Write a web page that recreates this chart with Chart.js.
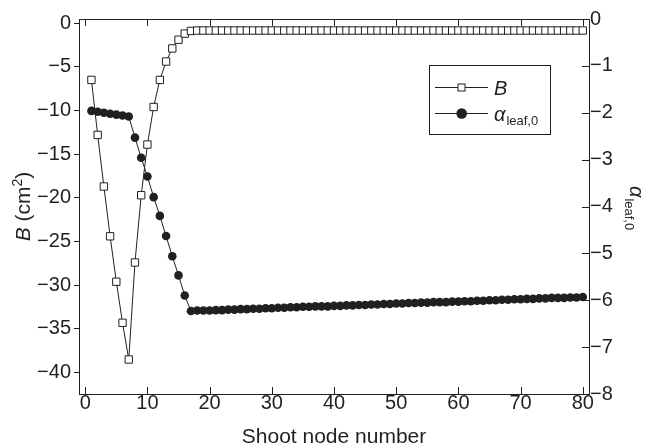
<!DOCTYPE html>
<html>
<head>
<meta charset="utf-8">
<script src="https://cdn.jsdelivr.net/npm/chart.js@4.4.1/dist/chart.umd.min.js"></script>
<style>
  html, body { margin: 0; padding: 0; background: #fff; }
  #wrap { width: 654px; height: 448px; }
</style>
</head>
<body>
<div id="wrap"><canvas id="nodeChart" width="654" height="448"></canvas></div>
<script>
const nodes = [
  1, 2, 3, 4, 5, 6, 7, 8, 9, 10, 11, 12, 13, 14, 15, 16, 17, 18, 19, 20,
  21, 22, 23, 24, 25, 26, 27, 28, 29, 30, 31, 32, 33, 34, 35, 36, 37, 38, 39, 40,
  41, 42, 43, 44, 45, 46, 47, 48, 49, 50, 51, 52, 53, 54, 55, 56, 57, 58, 59, 60,
  61, 62, 63, 64, 65, 66, 67, 68, 69, 70, 71, 72, 73, 74, 75, 76, 77, 78, 79, 80
];

// B (cm2), left axis
const bValues = [
  -6.5, -12.8, -18.7, -24.4, -29.6, -34.3, -38.5, -27.4, -19.7, -13.9,
  -9.6, -6.5, -4.4, -2.9, -1.9, -1.2, -0.9, -0.85, -0.85, -0.85,
  -0.85, -0.85, -0.85, -0.85, -0.85, -0.85, -0.85, -0.85, -0.85, -0.85,
  -0.85, -0.85, -0.85, -0.85, -0.85, -0.85, -0.85, -0.85, -0.85, -0.85,
  -0.85, -0.85, -0.85, -0.85, -0.85, -0.85, -0.85, -0.85, -0.85, -0.85,
  -0.85, -0.85, -0.85, -0.85, -0.85, -0.85, -0.85, -0.85, -0.85, -0.85,
  -0.85, -0.85, -0.85, -0.85, -0.85, -0.85, -0.85, -0.85, -0.85, -0.85,
  -0.85, -0.85, -0.85, -0.85, -0.85, -0.85, -0.85, -0.85, -0.85, -0.85
];

// alpha leaf,0, right axis
const alphaValues = [
  -1.96, -1.98, -2.00, -2.02, -2.04, -2.06, -2.08, -2.53, -2.96, -3.36,
  -3.80, -4.20, -4.63, -5.06, -5.47, -5.90, -6.23, -6.22, -6.22, -6.22,
  -6.21, -6.21, -6.20, -6.20, -6.19, -6.19, -6.18, -6.18, -6.17, -6.17,
  -6.16, -6.16, -6.15, -6.15, -6.14, -6.14, -6.13, -6.13, -6.13, -6.12,
  -6.12, -6.11, -6.11, -6.10, -6.10, -6.09, -6.09, -6.08, -6.08, -6.07,
  -6.07, -6.06, -6.06, -6.05, -6.05, -6.04, -6.04, -6.04, -6.03, -6.03,
  -6.02, -6.02, -6.01, -6.01, -6.00, -6.00, -5.99, -5.99, -5.98, -5.98,
  -5.97, -5.97, -5.96, -5.96, -5.95, -5.95, -5.95, -5.94, -5.94, -5.93
];

const INK = '#231f20';
const FONT = '"Liberation Sans", Arial, Helvetica, sans-serif';

const minus = v => String(v).replace('-', '\u2212');

// inward ticks, top frame line, axis titles and legend
const framePlugin = {
  id: 'frame',
  afterDraw(chart) {
    const ctx = chart.ctx;
    const area = chart.chartArea;
    const xs = chart.scales.x;
    const yr = chart.scales.y1;
    ctx.save();
    ctx.strokeStyle = INK;
    ctx.lineWidth = 1;
    ctx.beginPath();
    ctx.moveTo(area.left, area.top + 0.5);
    ctx.lineTo(area.right, area.top + 0.5);
    xs.ticks.forEach(t => {
      const px = Math.round(xs.getPixelForValue(t.value)) + 0.5;
      ctx.moveTo(px, area.bottom);
      ctx.lineTo(px, area.bottom - 7);
      ctx.moveTo(px, area.top);
      ctx.lineTo(px, area.top + 7);
    });
    yr.ticks.forEach(t => {
      const py = Math.round(yr.getPixelForValue(t.value)) + 0.5;
      ctx.moveTo(area.right, py);
      ctx.lineTo(area.right - 7, py);
    });
    ctx.stroke();

    ctx.fillStyle = INK;
    // x title
    ctx.font = '21px ' + FONT;
    ctx.textAlign = 'center';
    ctx.textBaseline = 'middle';
    ctx.fillText('Shoot node number', (area.left + area.right) / 2, 437);

    // left title: B (cm2)
    ctx.save();
    ctx.translate(30, (area.top + area.bottom) / 2);
    ctx.rotate(-Math.PI / 2);
    ctx.textBaseline = 'alphabetic';
    ctx.textAlign = 'left';
    const partB = 'B';
    const partU = ' (cm';
    const partS = '2';
    const partE = ')';
    ctx.font = 'italic 21px ' + FONT;
    const wB = ctx.measureText(partB).width;
    ctx.font = '21px ' + FONT;
    const wU = ctx.measureText(partU).width;
    const wE = ctx.measureText(partE).width;
    ctx.font = '14px ' + FONT;
    const wS = ctx.measureText(partS).width;
    let cx = -(wB + wU + wS + wE) / 2;
    ctx.font = 'italic 21px ' + FONT;
    ctx.fillText(partB, cx, 0); cx += wB;
    ctx.font = '21px ' + FONT;
    ctx.fillText(partU, cx, 0); cx += wU;
    ctx.font = '14px ' + FONT;
    ctx.fillText(partS, cx, -8); cx += wS;
    ctx.font = '21px ' + FONT;
    ctx.fillText(partE, cx, 0);
    ctx.restore();

    // right title: alpha leaf,0 (reads top to bottom)
    ctx.save();
    ctx.translate(630, 186);
    ctx.rotate(Math.PI / 2);
    ctx.textAlign = 'left';
    ctx.textBaseline = 'alphabetic';
    ctx.font = 'italic 20px ' + FONT;
    ctx.fillText('\u03b1', 0, 0);
    const wa = ctx.measureText('\u03b1').width;
    ctx.font = '13px ' + FONT;
    ctx.fillText('leaf,0', wa + 1, 5);
    ctx.restore();

    // legend
    ctx.strokeRect(429.5, 65.5, 121, 69);
    const rows = [
      { y: 87.5, kind: 'square', label: 'B' },
      { y: 113.5, kind: 'circle', label: '\u03b1' }
    ];
    rows.forEach(r => {
      ctx.beginPath();
      ctx.moveTo(435, r.y);
      ctx.lineTo(488, r.y);
      ctx.stroke();
      if (r.kind === 'square') {
        ctx.fillStyle = '#fff';
        ctx.fillRect(458, r.y - 3.5, 7, 7);
        ctx.strokeRect(458, r.y - 3.5, 7, 7);
      } else {
        ctx.beginPath();
        ctx.arc(461.7, r.y, 5.3, 0, Math.PI * 2);
        ctx.fillStyle = INK;
        ctx.fill();
      }
      ctx.fillStyle = INK;
      ctx.textAlign = 'left';
      ctx.textBaseline = 'alphabetic';
      ctx.font = 'italic 20px ' + FONT;
      ctx.fillText(r.label, 494, r.y + 7);
      if (r.kind === 'circle') {
        const w = ctx.measureText(r.label).width;
        ctx.font = '13px ' + FONT;
        ctx.fillText('leaf,0', 494 + w + 1, r.y + 11);
      }
    });
    ctx.restore();
  }
};

new Chart(document.getElementById('nodeChart'), {
  type: 'line',
  data: {
    datasets: [
      {
        label: 'B',
        data: nodes.map((n, i) => ({ x: n, y: bValues[i] })),
        yAxisID: 'y',
        borderColor: INK,
        borderWidth: 1,
        pointStyle: 'rect',
        pointRadius: 5.2,
        pointBackgroundColor: '#fff',
        pointBorderColor: INK,
        pointBorderWidth: 1,
        tension: 0
      },
      {
        label: 'alpha leaf,0',
        data: nodes.map((n, i) => ({ x: n, y: alphaValues[i] })),
        yAxisID: 'y1',
        borderColor: INK,
        borderWidth: 1,
        pointStyle: 'circle',
        pointRadius: 4.3,
        pointBackgroundColor: INK,
        pointBorderColor: INK,
        pointBorderWidth: 0,
        tension: 0
      }
    ]
  },
  options: {
    responsive: false,
    animation: false,
    devicePixelRatio: 1,
    layout: { padding: { top: 19, left: 0, right: 0, bottom: 0 } },
    plugins: {
      legend: { display: false },
      tooltip: { enabled: false }
    },
    scales: {
      x: {
        type: 'linear',
        position: 'bottom',
        min: -1,
        max: 81,
        afterFit: s => { s.height = 54; },
        ticks: {
          stepSize: 10,
          includeBounds: false,
          color: INK,
          font: { family: FONT, size: 20 },
          padding: -3,
          maxRotation: 0
        },
        grid: { drawOnChartArea: false, drawTicks: false },
        border: { display: true, color: INK, width: 1 }
      },
      y: {
        type: 'linear',
        position: 'left',
        min: -42.45,
        max: 0.47,
        afterFit: s => { s.width = 79; },
        ticks: {
          stepSize: 5,
          includeBounds: false,
          color: INK,
          font: { family: FONT, size: 20 },
          padding: 3,
          callback: minus
        },
        grid: { drawOnChartArea: false, tickLength: 5, color: INK },
        border: { display: true, color: INK, width: 1 }
      },
      y1: {
        type: 'linear',
        position: 'right',
        min: -8,
        max: 0,
        afterFit: s => { s.width = 65; },
        ticks: {
          stepSize: 1,
          includeBounds: false,
          color: INK,
          font: { family: FONT, size: 20 },
          padding: 1,
          callback: minus
        },
        grid: { drawOnChartArea: false, drawTicks: false },
        border: { display: true, color: INK, width: 1 }
      }
    }
  },
  plugins: [framePlugin]
});
</script>
</body>
</html>
